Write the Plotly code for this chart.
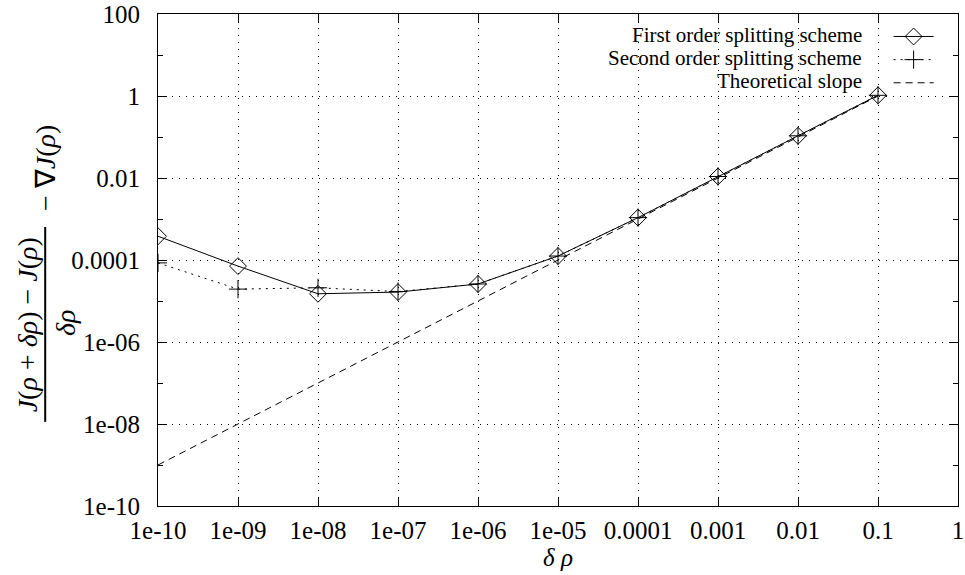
import plotly.graph_objects as go

# step sizes and the gradient error for each scheme
delta_rho = [1e-10, 1e-9, 1e-8, 1e-7, 1e-6, 1e-5, 1e-4, 1e-3, 1e-2, 1e-1]
first_order = [3.8e-4, 7.1e-5, 1.5e-5, 1.65e-5, 2.6e-5, 1.25e-4, 1.08e-3, 1.09e-2, 0.107, 1.04]
second_order = [8.5e-5, 1.95e-5, 2.1e-5, 1.7e-5, 2.6e-5, 1.25e-4, 1.08e-3, 1.09e-2, 0.107, 1.04]
theoretical = [1e-9, 1e-8, 1e-7, 1e-6, 1e-5, 1e-4, 1e-3, 1e-2, 1e-1, 1.0]

x_ticks = [1e-10, 1e-9, 1e-8, 1e-7, 1e-6, 1e-5, 1e-4, 1e-3, 1e-2, 1e-1, 1]
x_labels = ["1e-10", "1e-09", "1e-08", "1e-07", "1e-06", "1e-05", "0.0001", "0.001", "0.01", "0.1", "1"]
y_ticks = [1e-10, 1e-8, 1e-6, 1e-4, 1e-2, 1, 100]
y_labels = ["1e-10", "1e-08", "1e-06", "0.0001", "0.01", "1", "100"]
y_minor = [1e-9, 1e-7, 1e-5, 1e-3, 1e-1, 10]

names = ["First order splitting scheme", "Second order splitting scheme", "Theoretical slope"]

FONT = "Liberation Serif, Times New Roman, serif"

fig = go.Figure()
fig.add_trace(go.Scatter(
    x=delta_rho, y=first_order, mode="lines+markers", name=" ",
    line=dict(color="black", width=1),
    marker=dict(symbol="diamond-open", size=13, color="black", line=dict(width=1)),
))
fig.add_trace(go.Scatter(
    x=delta_rho, y=second_order, mode="lines+markers", name=" ",
    line=dict(color="black", width=1, dash="2px,5px"),
    marker=dict(symbol="cross-thin-open", size=13, color="black", line=dict(width=1, color="black")),
))
fig.add_trace(go.Scatter(
    x=delta_rho, y=theoretical, mode="lines", name=" ",
    line=dict(color="black", width=1, dash="7px,5px"),
))

axis_common = dict(
    type="log", automargin=False,
    showline=True, linecolor="black", linewidth=1, mirror="allticks",
    ticks="inside", ticklen=9, tickcolor="black",
    showgrid=True, gridcolor="black", gridwidth=1, griddash="1px,6px",
    zeroline=False, ticklabeloverflow="allow",
    tickfont=dict(family=FONT, size=25, color="black"),
)

fig.update_xaxes(
    range=[-10, 0], tickmode="array", tickvals=x_ticks, ticktext=x_labels,
    title=dict(text="<i>δ ρ</i>", font=dict(family=FONT, size=25, color="black"), standoff=4),
    ticklabelstandoff=2,
    **axis_common,
)
fig.update_yaxes(
    range=[-10, 2], tickmode="array", tickvals=y_ticks, ticktext=y_labels,
    minor=dict(tickmode="array", tickvals=y_minor, ticks="inside", ticklen=5,
               tickcolor="black", showgrid=False),
    ticklabelstandoff=12,
    **axis_common,
)

# legend labels, right aligned to the left of the plotly legend samples
label_rows = [0.957, 0.911, 0.864]
for name, yy in zip(names, label_rows):
    fig.add_annotation(
        text=name, xref="paper", yref="paper", x=0.883, y=yy,
        xanchor="right", yanchor="middle", showarrow=False,
        font=dict(family=FONT, size=21, color="black"),
    )

# y axis title built as a fraction
title_font = dict(family=FONT, size=28, color="black")
fig.add_annotation(
    text="<i>J</i>(<i>ρ</i> + <i>δρ</i>) − <i>J</i>(<i>ρ</i>)",
    xref="paper", yref="paper", x=-0.162, y=0.368, textangle=-90,
    xanchor="center", yanchor="middle", showarrow=False, font=title_font,
)
fig.add_annotation(
    text="<i>δρ</i>",
    xref="paper", yref="paper", x=-0.115, y=0.372, textangle=-90,
    xanchor="center", yanchor="middle", showarrow=False, font=title_font,
)
fig.add_annotation(
    text="− ∇<i>J</i>(<i>ρ</i>)",
    xref="paper", yref="paper", x=-0.140, y=0.687, textangle=-90,
    xanchor="center", yanchor="middle", showarrow=False, font=title_font,
)
fig.add_shape(
    type="line", xref="paper", yref="paper",
    x0=-0.141, x1=-0.141, y0=0.171, y1=0.567,
    line=dict(color="black", width=2),
)

fig.update_layout(
    width=965, height=575, autosize=False,
    margin=dict(l=158, r=7, t=14, b=69),
    plot_bgcolor="white", paper_bgcolor="white",
    font=dict(family=FONT, size=20, color="black"),
    showlegend=True,
    legend=dict(
        x=0.987, y=0.988, xanchor="right", yanchor="top",
        bgcolor="rgba(0,0,0,0)", borderwidth=0,
        font=dict(family=FONT, size=15.5), tracegroupgap=0,
        itemwidth=40,
    ),
)

# the page body has a default 8px margin; drop it so the figure fills the window
fig.write_html("out.html", config={"displayModeBar": False},
               post_script="document.body.style.margin='0';")
